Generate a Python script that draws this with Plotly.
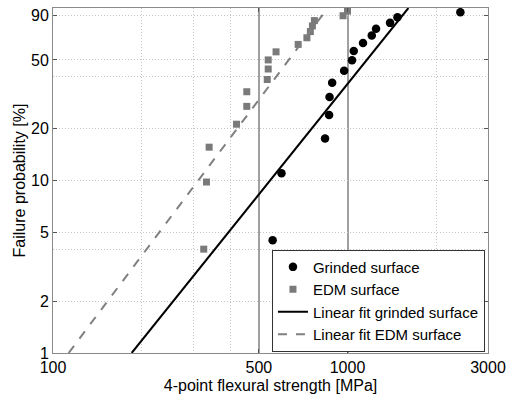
import plotly.graph_objects as go

# Grinded surface data (strength MPa, failure probability %)
grinded_strength = [557, 597, 839, 866, 869, 887, 974, 1036, 1050, 1129, 1209, 1250, 1395, 1478, 2417]
grinded_prob = [4.5, 11.0, 17.5, 24.0, 30.5, 36.9, 43.3, 49.8, 56.4, 62.6, 69.2, 75.7, 82.0, 88.5, 94.6]

# EDM surface data
edm_strength = [325, 332, 339, 420, 455, 455, 534, 538, 538, 572, 680, 728, 748, 760, 772, 966, 1000]
edm_prob = [4.0, 9.8, 15.6, 21.2, 26.9, 32.7, 38.5, 44.3, 50.0, 55.7, 61.5, 67.2, 73.0, 78.7, 84.5, 90.2, 96.0]

# Linear fit lines (endpoints)
fit_grinded_x = [185, 1610]
fit_grinded_y = [1, 100]
fit_edm_x = [113, 857]
fit_edm_y = [1, 100]

x_tickvals = [100, 500, 1000, 3000]
x_ticktext = ["100", "500", "1000", "3000"]
x_minor = [200, 300, 400, 2000]
y_tickvals = [1, 2, 5, 10, 20, 50, 90]
y_ticktext = ["1", "2", "5", "10", "20", "50", "90"]
y_minor = [4, 40]

FONT = "Liberation Sans, Arial, sans-serif"
DOT = "1px,2px"

fig = go.Figure()
fig.add_trace(go.Scatter(x=grinded_strength, y=grinded_prob, mode="markers",
                         name="Grinded surface",
                         marker=dict(symbol="circle", size=8.5, color="black")))
fig.add_trace(go.Scatter(x=edm_strength, y=edm_prob, mode="markers",
                         name="EDM surface",
                         marker=dict(symbol="square", size=7, color="#7a7a7a")))
fig.add_trace(go.Scatter(x=fit_grinded_x, y=fit_grinded_y, mode="lines",
                         name="Linear fit grinded surface",
                         line=dict(color="black", width=2)))
fig.add_trace(go.Scatter(x=fit_edm_x, y=fit_edm_y, mode="lines",
                         name="Linear fit EDM surface",
                         line=dict(color="#808080", width=2, dash="dash")))

fig.update_layout(
    width=507, height=394,
    margin=dict(l=53, r=19, t=8, b=41),
    paper_bgcolor="white", plot_bgcolor="white",
    font=dict(family=FONT, size=16, color="black"),
    showlegend=True,
    legend=dict(x=0.993, y=0.004, xanchor="right", yanchor="bottom",
                bgcolor="white", bordercolor="#333333", borderwidth=1,
                font=dict(size=15), tracegroupgap=0, itemwidth=30),
)
fig.update_xaxes(
    type="log", range=[2, 3.4771], automargin=False,
    tickmode="array", tickvals=x_tickvals, ticktext=x_ticktext,
    ticks="inside", ticklen=4, tickcolor="#555555",
    showgrid=True, gridcolor="#a0a0a0", gridwidth=1.5,
    showline=True, linecolor="#8a8a8a", linewidth=1, mirror="ticks",
    minor=dict(tickvals=x_minor, ticks="", showgrid=True,
               gridcolor="#c4c4c4", griddash=DOT, gridwidth=1),
    title=dict(text="4-point flexural strength [MPa]", standoff=9, font=dict(size=16)),
    tickfont=dict(size=16), zeroline=False,
)
fig.update_yaxes(
    type="log", range=[0, 2], automargin=False,
    tickmode="array", tickvals=y_tickvals, ticktext=y_ticktext,
    ticks="inside", ticklen=4, tickcolor="#555555",
    showgrid=True, gridcolor="#c4c4c4", griddash=DOT, gridwidth=1,
    showline=True, linecolor="#8a8a8a", linewidth=1, mirror="ticks",
    minor=dict(tickvals=y_minor, ticks="", showgrid=True,
               gridcolor="#c4c4c4", griddash=DOT, gridwidth=1),
    title=dict(text="Failure probability [%]", standoff=1, font=dict(size=16)),
    tickfont=dict(size=16), zeroline=False,
)

# remove the browser's default 8px body margin so the figure starts at (0, 0)
fig.write_html("out.html", config={"displayModeBar": False},
               post_script="document.body.style.margin='0';")
